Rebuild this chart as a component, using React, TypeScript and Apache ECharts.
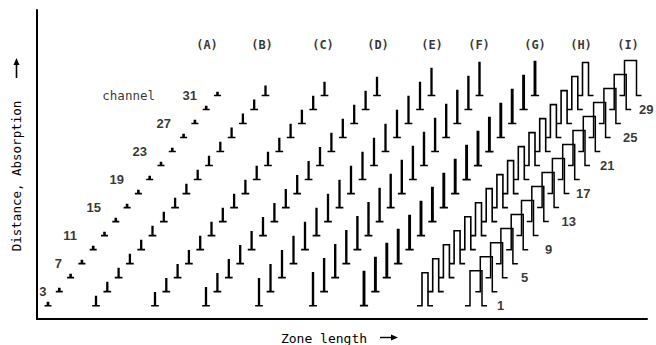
import React, { useEffect, useRef } from 'react';
import * as echarts from 'echarts';

// ---- data ----
const groupLabels = ['(A)', '(B)', '(C)', '(D)', '(E)', '(F)', '(G)', '(H)', '(I)'];
const channels = [1, 3, 5, 7, 9, 11, 13, 15, 17, 19, 21, 23, 25, 27, 29, 31];
// zone position of the channel-1 peak in each group, and shift per plotted peak
const zoneAtChannel1 = [11, 59, 118, 169, 222, 276, 327, 388, 439];
const zoneShiftPerPeak = [11.3, 11.3, 11.3, 11.4, 11.5, 11.1, 11.4, 10.7, 10.3];
// absorption peak height (distance units) and peak width (zone units)
const peakHeight = [0.43, 1.3, 1.85, 2.55, 3.85, 4.7, 4.85, 4.7, 5.0];
const peakWidth = [1, 0.7, 0.7, 0.7, 0.7, 0.8, 1.2, 6, 12];
// header label zone positions
const headerZone = [170, 225, 286, 341, 395, 442, 498, 544, 591];
const headerLevel = 38.2;
// channel number labels
const leftLabelChannels = [3, 7, 11, 15, 19, 23, 27, 31];
const leftLabelZone = [9.5, 25, 40, 64, 87, 110, 134, 160];
const rightLabelChannels = [1, 5, 9, 13, 17, 21, 25, 29];
const rightLabelZone = [460, 484, 508, 524.5, 539, 563, 586, 602];

// ---- styles ----
const INK = '#000';
const footLen = [3, 3.5, 3.5, 3.5, 3.5, 3.5, 3.5, 5, 5];
const lineW = [1.6, 1.6, 1.6, 1.6, 1.6, 1.6, 1.7, 1.6, 1.5];
const MONO = '"DejaVu Sans Mono", monospace';
const SANS = '"Liberation Sans", Arial, sans-serif';

export default function App() {
  const ref = useRef<HTMLDivElement>(null);
  useEffect(() => {
    if (!ref.current) return;
    const chart = echarts.init(ref.current, undefined, { renderer: 'svg' });

    const peaks: number[][] = [];
    groupLabels.forEach((_, gi) => {
      channels.forEach((ch, k) => {
        peaks.push([zoneAtChannel1[gi] + k * zoneShiftPerPeak[gi], ch, peakHeight[gi], peakWidth[gi], gi]);
      });
    });

    const numLabel = { show: true, distance: 0, formatter: (p: any) => p.name, color: INK, fontFamily: SANS, fontSize: 13, fontWeight: 'bold' };

    const option: any = {
      animation: false,
      backgroundColor: '#fff',
      grid: { left: 37, right: 9, top: 10, bottom: 26 },
      xAxis: {
        type: 'value', min: 0, max: 610,
        axisLine: { show: true, onZero: false, lineStyle: { color: INK, width: 2 } },
        axisTick: { show: false }, axisLabel: { show: false }, splitLine: { show: false },
      },
      yAxis: {
        type: 'value', min: -0.9, max: 43.2,
        axisLine: { show: true, onZero: false, lineStyle: { color: INK, width: 2 } },
        axisTick: { show: false }, axisLabel: { show: false }, splitLine: { show: false },
      },
      series: [
        {
          type: 'custom',
          data: peaks,
          silent: true,
          renderItem: (params: any, api: any) => {
            const x = api.value(0), ch = api.value(1), h = api.value(2), w = api.value(3), gi = api.value(4);
            const pb = api.coord([x - w / 2, ch]);
            const pt = api.coord([x + w / 2, ch + h]);
            const xl = pb[0], yb = pb[1], xr = pt[0], yt = pt[1];
            const f = footLen[gi];
            return {
              type: 'polyline',
              shape: { points: [[xl - f, yb], [xl, yb], [xl, yt], [xr, yt], [xr, yb], [xr + f, yb]] },
              style: { stroke: INK, fill: null, lineWidth: lineW[gi], lineJoin: 'miter' },
            };
          },
        },
        {
          type: 'scatter', symbolSize: 0, silent: true,
          data: groupLabels.map((g, i) => ({ value: [headerZone[i], headerLevel], name: g })),
          label: { show: true, position: 'inside', formatter: (p: any) => p.name, color: INK, fontFamily: MONO, fontSize: 12, fontWeight: 'bold' },
        },
        {
          type: 'scatter', symbolSize: 0, silent: true,
          data: leftLabelChannels.map((c, i) => ({ value: [leftLabelZone[i], c], name: String(c) })),
          label: { ...numLabel, position: 'left' },
        },
        {
          type: 'scatter', symbolSize: 0, silent: true,
          data: rightLabelChannels.map((c, i) => ({ value: [rightLabelZone[i], c], name: String(c) })),
          label: { ...numLabel, position: 'right' },
        },
        {
          type: 'scatter', symbolSize: 0, silent: true,
          data: [{ value: [118, 31], name: 'channel' }],
          label: { show: true, position: 'left', distance: 0, formatter: (p: any) => p.name, color: INK, fontFamily: MONO, fontSize: 12.5 },
        },
      ],
      graphic: [
        {
          type: 'text', x: 16, y: 176, rotation: Math.PI / 2,
          style: { text: 'Distance, Absorption', font: `12.5px ${MONO}`, fill: INK, textAlign: 'center', textVerticalAlign: 'middle' },
        },
        { type: 'line', shape: { x1: 16.5, y1: 78, x2: 16.5, y2: 61 }, style: { stroke: INK, lineWidth: 1.6 } },
        { type: 'polygon', shape: { points: [[16.5, 58], [13.5, 65], [19.5, 65]] }, style: { fill: INK } },
        {
          type: 'text', x: 324, y: 338,
          style: { text: 'Zone length', font: `13px ${MONO}`, fill: INK, textAlign: 'center', textVerticalAlign: 'middle' },
        },
        { type: 'line', shape: { x1: 380, y1: 337.5, x2: 394, y2: 337.5 }, style: { stroke: INK, lineWidth: 1.4 } },
        { type: 'polygon', shape: { points: [[398, 337.5], [391, 334.5], [391, 340.5]] }, style: { fill: INK } },
      ],
    };
    chart.setOption(option);
    return () => chart.dispose();
  }, []);
  return <div ref={ref} style={{ position: 'fixed', left: 0, top: 0, width: 656, height: 345, background: '#fff' }} />;
}
